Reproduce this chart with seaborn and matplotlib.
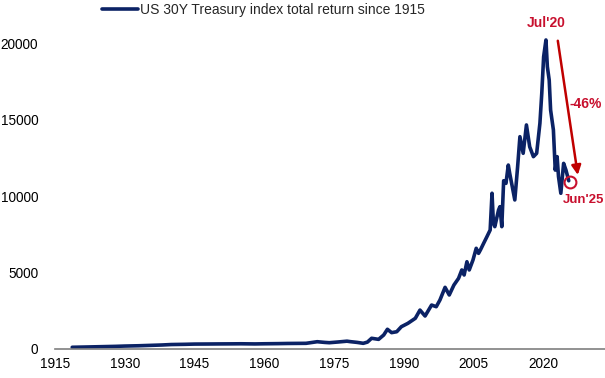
import numpy as np
import pandas as pd
import matplotlib
matplotlib.use('Agg')
import matplotlib.pyplot as plt
import seaborn as sns

# US 30Y Treasury total return index
years = [1918.7, 1922, 1925, 1928, 1930, 1933, 1935, 1938, 1940, 1943, 1945, 1948,
         1950, 1953, 1955, 1958, 1960, 1963, 1965, 1967, 1969, 1971.4, 1973, 1974,
         1976, 1977.8, 1978.5, 1980, 1981.3, 1982.2, 1983.1, 1984.6, 1985.7, 1986.5,
         1987.4, 1988.5, 1989.5, 1990.9, 1992.5, 1993.5, 1994.6, 1996, 1997, 1997.8,
         1998.9, 1999.8, 2000.8, 2001.8, 2002.5, 2003, 2003.6, 2004.1, 2004.9, 2005.6,
         2006.1, 2006.5, 2007.2, 2007.9, 2008.6, 2009.0, 2009.3, 2009.6, 2010.4, 2010.7,
         2011.1, 2011.5, 2012.0, 2012.5, 2012.8, 2013.3, 2013.9, 2014.5, 2015.0, 2015.7,
         2016.4, 2017.1, 2017.9, 2018.6, 2019.3, 2019.7, 2020.1, 2020.6, 2020.9, 2021.3,
         2021.6, 2022.2, 2022.6, 2023.0, 2023.3, 2023.8, 2024.4, 2024.9, 2025.5]
values = [80, 100, 120, 140, 160, 180, 200, 230, 260, 275, 290, 295,
          300, 305, 310, 300, 310, 320, 330, 335, 340, 445, 400, 380,
          430, 480, 450, 400, 340, 420, 670, 600, 885, 1260,
          1040, 1100, 1430, 1650, 1980, 2520, 2130, 2850, 2740, 3180,
          4010, 3510, 4160, 4600, 5150, 4820, 5690, 5150, 5800, 6570,
          6240, 6460, 6900, 7330, 7770, 10180, 8210, 7990, 9080, 9300,
          7990, 11000, 10830, 12030, 11490, 10700, 9740, 11900, 13890, 12800,
          14660, 13230, 12580, 12800, 14770, 16730, 19130, 20230, 18480, 17600,
          15640, 14330, 11700, 12580, 11270, 10180, 12140, 11700, 11000]

label = 'US 30Y Treasury index total return since 1915'
yticks = [0, 5000, 10000, 15000, 20000]
xticks = [1915, 1930, 1945, 1960, 1975, 1990, 2005, 2020]

peak = (2020.6, 20230)
last = (2025.8, 10940)

navy = '#0B2265'
red = '#C00000'
crimson = '#C8102E'

sns.set_style('white')
plt.rcParams['font.family'] = ['Liberation Sans', 'DejaVu Sans']

df = pd.DataFrame({'Year': years, 'Value': values})

fig = plt.figure(figsize=(6.05, 3.78), dpi=100)
ax = fig.add_axes([55 / 605, 1 - 348.5 / 378, 550 / 605, 320.25 / 378])

sns.lineplot(x='Year', y='Value', data=df, color=navy, linewidth=2.6, label=label, ax=ax)

ax.set_xlim(1915, 2033.3)
ax.set_ylim(0, 21000)
ax.set_xticks(xticks)
ax.set_yticks(yticks)
ax.set_xlabel('')
ax.set_ylabel('')
ax.tick_params(axis='both', length=0, labelsize=9.8, colors='black')
ax.tick_params(axis='y', pad=12)
ax.tick_params(axis='x', pad=6)

sns.despine(ax=ax, left=True, top=True, right=True)
ax.spines['bottom'].set_color('#7f7f7f')
ax.spines['bottom'].set_linewidth(1.2)

ax.legend(loc='center left', bbox_to_anchor=(101.7 / 605, 1 - 10 / 378),
          bbox_transform=fig.transFigure, frameon=False, borderpad=0,
          borderaxespad=0, handlelength=2.6, handletextpad=0.15, fontsize=10)

# drawdown arrow and markers
ax.annotate('', xy=(2027.45, 11380), xytext=(2023.15, 20180),
            arrowprops=dict(arrowstyle='-|>', color=red, lw=1.8,
                            mutation_scale=14, shrinkA=0, shrinkB=0),
            annotation_clip=False)
ax.plot([last[0]], [last[1]], marker='o', markersize=8.5, markerfacecolor='none',
        markeredgecolor=crimson, markeredgewidth=1.5, clip_on=False)
ax.text(2020.6, 21325, "Jul'20", color=crimson, fontsize=10, fontweight='bold',
        ha='center', va='center', clip_on=False)
ax.text(2029.2, 16010, '-46%', color=crimson, fontsize=10, fontweight='bold',
        ha='center', va='center')
ax.text(2028.6, 9740, "Jun'25", color=crimson, fontsize=9.5, fontweight='bold',
        ha='center', va='center')

fig.savefig('out.png', dpi=100)
